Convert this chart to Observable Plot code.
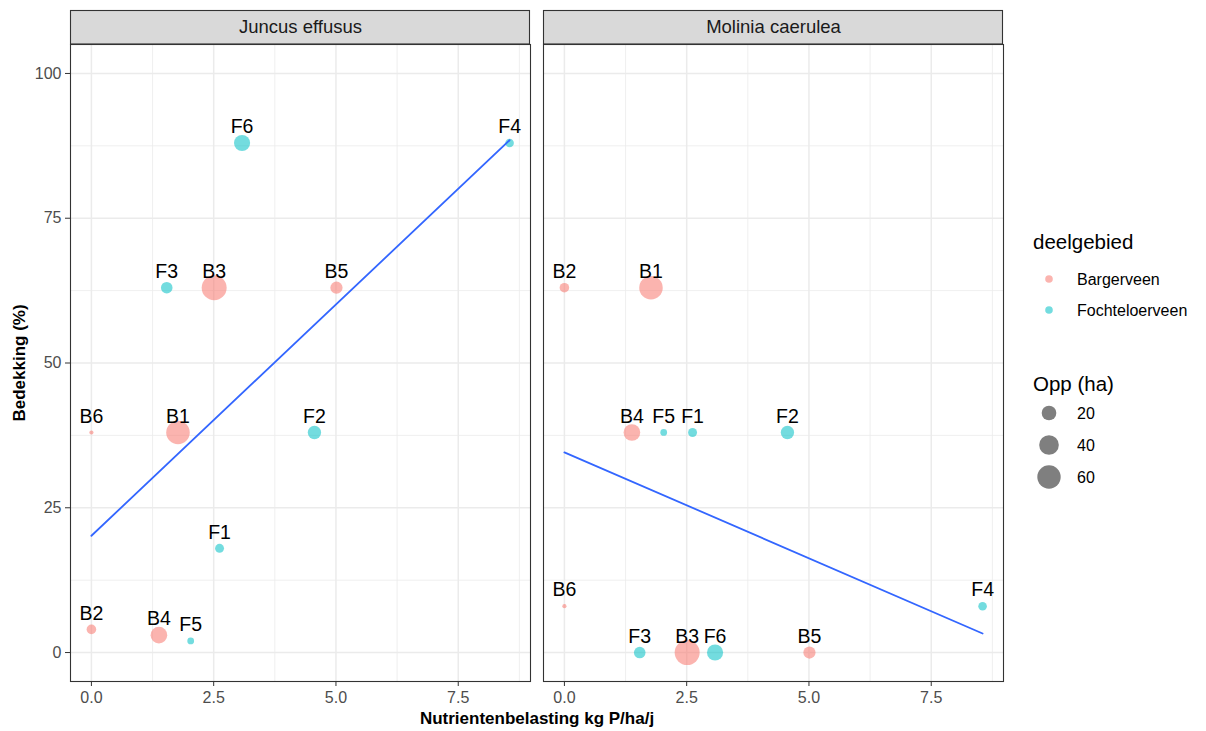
<!DOCTYPE html>
<html>
<head>
<meta charset="utf-8">
<script src="https://cdn.jsdelivr.net/npm/d3@7"></script>
<script src="https://cdn.jsdelivr.net/npm/@observablehq/plot@0.6"></script>
<style>
  html, body { margin: 0; padding: 0; background: #fff; overflow: hidden; }
  #wrap { position: relative; width: 1206px; height: 731px; font-family: Arial, "Liberation Sans", sans-serif; }
  #legend { position: absolute; left: 1010px; top: 0; }
</style>
</head>
<body>
<div id="wrap"><div id="chart"></div><div id="legend"></div></div>
<script>
// Sites (peat areas), their sub-area, nutrient load, surface and cover per species
const sites = ["B1", "B2", "B3", "B4", "B5", "B6", "F1", "F2", "F3", "F4", "F5", "F6"];
const deelgebied = ["Bargerveen", "Bargerveen", "Bargerveen", "Bargerveen", "Bargerveen", "Bargerveen",
                    "Fochteloerveen", "Fochteloerveen", "Fochteloerveen", "Fochteloerveen", "Fochteloerveen", "Fochteloerveen"];
const nutrientLoad = [1.77, 0, 2.51, 1.38, 5.01, 0, 2.62, 4.56, 1.54, 8.55, 2.03, 3.08];   // kg P/ha/j
const areaHa = [61, 7.5, 70, 27, 13, 3, 6.5, 16, 11.5, 6, 4, 25];                          // Opp (ha)
const coverJuncus = [38, 4, 63, 3, 63, 38, 18, 38, 63, 88, 2, 88];                          // Bedekking (%)
const coverMolinia = [63, 63, 0, 38, 0, 8, 38, 38, 0, 8, 38, 0];                            // Bedekking (%)
const species = ["Juncus effusus", "Molinia caerulea"];
const regions = ["Bargerveen", "Fochteloerveen"];
const regionColors = ["#F8766D", "#00BFC4"];
const sizeBreaks = [20, 40, 60];
const xTicks = [0, 2.5, 5, 7.5];
const xMinor = [1.25, 3.75, 6.25, 8.75];
const yTicks = [0, 25, 50, 75, 100];
const yMinor = [12.5, 37.5, 62.5, 87.5];

// Long table: one row per site and species
const coverBySpecies = [coverJuncus, coverMolinia];
const rows = species.flatMap((sp, s) => sites.map((site, i) => ({
  species: sp, site, region: deelgebied[i], load: nutrientLoad[i], area: areaHa[i], cover: coverBySpecies[s][i]
})));

// Domains padded by 5% on both sides
const [x0, x1] = d3.extent(nutrientLoad);
const xPad = (x1 - x0) * 0.05;
const areaMin = d3.min(areaHa), areaMax = d3.max(areaHa);
const rScale = {type: "sqrt", domain: [0, areaMax - areaMin], range: [2.1, 12.5]};

const gridColor = "#EBEBEB";
const chart = Plot.plot({
  width: 1010,
  height: 731,
  marginLeft: 70,
  marginRight: 7,
  marginTop: 44,
  marginBottom: 50,
  style: {fontFamily: "Arial, 'Liberation Sans', sans-serif", background: "#fff"},
  x: {domain: [x0 - xPad, x1 + xPad]},
  y: {domain: [-5, 105]},
  fx: {domain: species, paddingInner: 0.0275, paddingOuter: 0},
  r: rScale,
  color: {domain: regions, range: regionColors},
  marks: [
    Plot.gridX(xMinor, {stroke: gridColor, strokeOpacity: 1, strokeWidth: 0.8}),
    Plot.gridY(yMinor, {stroke: gridColor, strokeOpacity: 1, strokeWidth: 0.8}),
    Plot.gridX(xTicks, {stroke: gridColor, strokeOpacity: 1, strokeWidth: 1.5}),
    Plot.gridY(yTicks, {stroke: gridColor, strokeOpacity: 1, strokeWidth: 1.5}),
    Plot.dot(rows, {x: "load", y: "cover", fx: "species", r: d => d.area - areaMin,
                    fill: "region", fillOpacity: 0.55, stroke: null}),
    Plot.linearRegressionY(rows, {x: "load", y: "cover", fx: "species", ci: 0,
                                  stroke: "#3366FF", strokeWidth: 1.8}),
    Plot.text(rows, {x: "load", y: "cover", fx: "species", text: "site", dy: -16,
                     fontSize: 19.5, fill: "#000"}),
    Plot.frame({stroke: "#333", strokeWidth: 1.1}),
    Plot.axisX({ticks: xTicks, tickFormat: d3.format(".1f"), tickSize: 5, tickPadding: 5,
                fontSize: 16, stroke: "#333", fill: "#4D4D4D", label: null}),
    Plot.axisY({ticks: yTicks, tickSize: 5, tickPadding: 4, fontSize: 16,
                stroke: "#333", fill: "#4D4D4D", label: null}),
    Plot.axisY({ticks: [], label: "Bedekking (%)", labelAnchor: "center", labelOffset: 58,
                labelArrow: "none", fontSize: 17, fontWeight: "bold", fill: "#000"}),
    Plot.axisFx({anchor: "bottom", ticks: [], label: "Nutrientenbelasting kg P/ha/j",
                 labelAnchor: "center", labelOffset: 42, labelArrow: "none",
                 fontSize: 17, fontWeight: "bold", fill: "#000"}),
    // facet strip titles
    Plot.text(species, {fx: d => d, text: d => d, frameAnchor: "top", dy: -17,
                        fontSize: 18.5, fill: "#1A1A1A", lineAnchor: "middle"})
  ]
});

// Grey strip boxes behind the facet titles
const fx = chart.scale("fx");
d3.select(chart).insert("g", "g").selectAll("rect").data(species).join("rect")
  .attr("x", d => fx.apply(d) + 0.5)
  .attr("y", 10.5)
  .attr("width", fx.bandwidth - 1)
  .attr("height", 33.5)
  .attr("fill", "#D9D9D9")
  .attr("stroke", "#333")
  .attr("stroke-width", 1.1);
d3.select(chart).selectAll('g[aria-label$="axis label"] text')
  .style("font-weight", "bold").style("font-size", "17px");

document.getElementById("chart").appendChild(chart);

// Legend: colour of sub-area and size of surface
const r = Plot.scale({r: rScale});
const legend = d3.select("#legend").append("svg")
  .attr("width", 196).attr("height", 731)
  .style("font-family", "Arial, 'Liberation Sans', sans-serif");

legend.append("text").attr("x", 23).attr("y", 249).attr("font-size", 20.5).text("deelgebied");
const colorItems = legend.selectAll("g.c").data(regions).join("g").attr("class", "c")
  .attr("transform", (d, i) => `translate(0,${279 + i * 31})`);
colorItems.append("circle").attr("cx", 39).attr("r", 3.8)
  .attr("fill", (d, i) => regionColors[i]).attr("fill-opacity", 0.55);
colorItems.append("text").attr("x", 67).attr("dy", "0.35em").attr("font-size", 16).text(d => d);

legend.append("text").attr("x", 23).attr("y", 391).attr("font-size", 20.5).text("Opp (ha)");
const sizeItems = legend.selectAll("g.s").data(sizeBreaks).join("g").attr("class", "s")
  .attr("transform", (d, i) => `translate(0,${413 + i * 32})`);
sizeItems.append("circle").attr("cx", 39).attr("r", d => r.apply(d - areaMin))
  .attr("fill", "#000").attr("fill-opacity", 0.5);
sizeItems.append("text").attr("x", 67).attr("dy", "0.35em").attr("font-size", 16).text(d => d);
</script>
</body>
</html>
